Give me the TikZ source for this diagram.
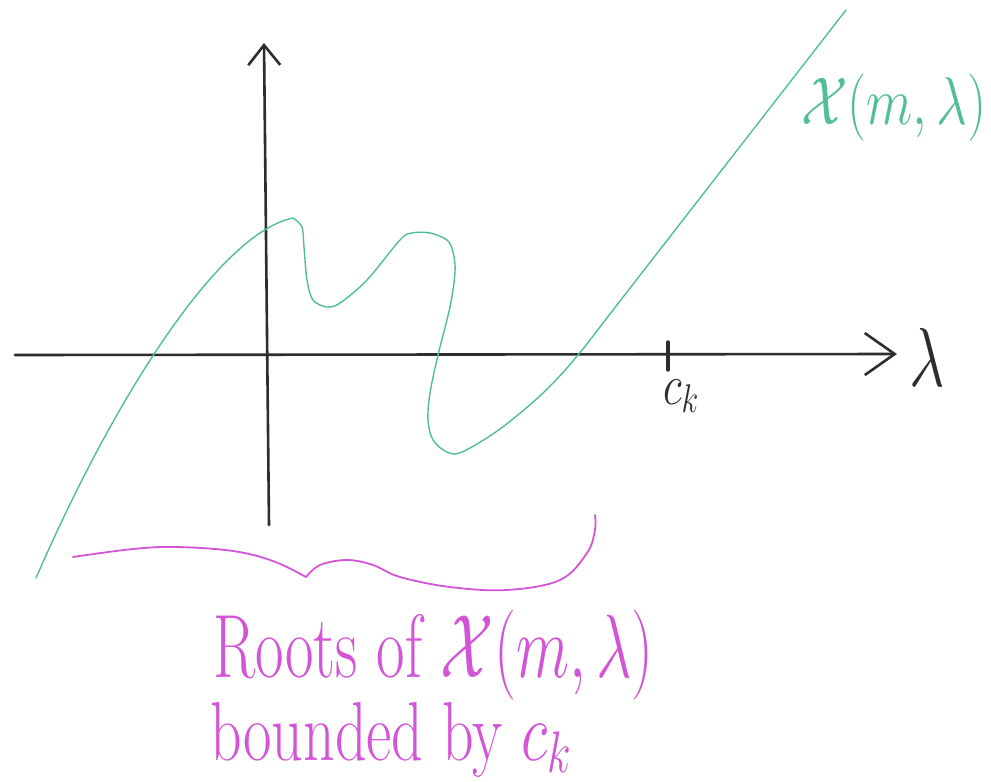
\RequirePackage{fix-cm}
\documentclass[tikz,border=0pt]{standalone}
\usepackage{graphicx}
\usetikzlibrary{arrows.meta}
\definecolor{axisgray}{RGB}{45,45,45}
\definecolor{curvegreen}{RGB}{80,190,150}
\definecolor{notemag}{RGB}{210,85,215}
\tikzset{
  axisline/.style={draw=axisgray, line width=2.6pt, line cap=round},
  curveline/.style={draw=curvegreen, line width=1.4pt, line cap=round, line join=round},
  braceline/.style={draw=notemag, line width=1.8pt, line cap=round},
  handtext/.style={inner sep=0pt, outer sep=0pt},
}
\begin{document}
\begin{tikzpicture}[x=1pt,y=-1pt]
\useasboundingbox (0,0) rectangle (991,782);
\fill[white] (0,0) rectangle (991,782);
% axes
\coordinate (xL) at (15,355);
\coordinate (xR) at (897,354);
\coordinate (yB) at (269,525);
\coordinate (yT) at (264,43);
\draw[axisline, -{Straight Barb[length=30pt,width=42pt,line width=2.6pt]}] (xL) -- (xR);
\draw[axisline, -{Straight Barb[length=20pt,width=32pt,line width=2.6pt]}] (yB) -- (yT);
% tick at c_k
\coordinate (tkT) at (668,342);
\coordinate (tkB) at (668,370);
\draw[axisline, line width=3.4pt] (tkT) -- (tkB);
% labels on the axis
\node[handtext, text=axisgray] (lam) at (927,357) {\scalebox{1}[1.35]{\fontsize{62}{62}\selectfont$\lambda$}};
\node[handtext, text=axisgray] (ck) at (681,396) {\scalebox{1}[1.3]{\fontsize{44}{44}\selectfont$c_k$}};
% green curve
\coordinate (gS) at (36,578);
\coordinate (gP) at (293,218);
\coordinate (gE) at (846,10);
\draw[curveline] (gS) .. controls (120,385) and (223,232) .. (gP)
 plot[smooth, tension=0.55] coordinates {(gP)
 (302,227) (304,247) (307,280) (313,300) (327,307) (340,303) (367,280) (400,240)
 (412,233) (430,233) (447,240) (453,252) (455,272) (450,307) (438,355) (430,393)
 (428,420) (433,440) (447,452) (462,452) (500,429) (543,393) (578,355) (627,292) (gE)};
\node[handtext, anchor=base west, text=curvegreen] (xlab) at (801,124)
  {\scalebox{1}[1.25]{\fontsize{54}{54}\selectfont$\mathcal{X}(m,\lambda)$}};
% magenta brace
\coordinate (brL) at (73,557);
\coordinate (brC) at (306,577);
\coordinate (brR) at (595,515);
\draw[braceline] plot[smooth, tension=0.6] coordinates {
 (brL) (133,549) (177,547) (233,551) (273,561) (brC)};
\draw[braceline] plot[smooth, tension=0.6] coordinates {
 (brC) (320,565) (347,560) (373,565) (400,577) (450,587) (507,590) (560,580) (587,553) (595,530) (brR)};
% magenta notes
\node[handtext, anchor=base west, text=notemag] (roots) at (213,677)
  {\scalebox{1}[1.45]{\fontsize{62}{62}\selectfont Roots of $\mathcal{X}(m,\lambda)$}};
\node[handtext, anchor=base west, text=notemag] (bnd) at (210,760)
  {\scalebox{1}[1.35]{\fontsize{62}{62}\selectfont bounded by $c_k$}};
\end{tikzpicture}
\end{document}
